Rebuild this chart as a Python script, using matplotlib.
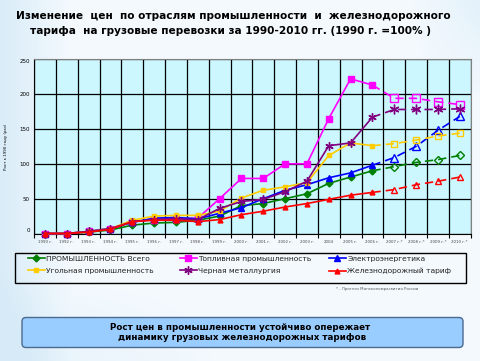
import numpy as np
import matplotlib
matplotlib.use("Agg")
import matplotlib.pyplot as plt
from matplotlib.lines import Line2D
from matplotlib.patches import FancyBboxPatch, Rectangle

# --- data (1990 = base) ---
years = ['1990 г.', '1992 г.', '1993 г.', '1994 г.', '1995 г.', '1996 г.', '1997 г.',
         '1998 г.', '1999 г.', '2000 г.', '2001 г.', '2002 г.', '2003 г.', '2004',
         '2005 г.', '2006 г.', '2007 г.*', '2008 г.*', '2009 г.*', '2010 г.*']

industry = [0, 0, 2, 5, 12, 15, 16, 19, 25, 40, 43, 50, 57, 72, 81, 90, 96, 102, 106, 112]
fuel     = [0, 0, 3, 7, 17, 20, 21, 22, 50, 79, 79, 100, 100, 165, 222, 213, 194, 194, 189, 185]
power    = [0, 0, 3, 7, 16, 22, 23, 21, 29, 37, 50, 62, 70, 80, 87, 98, 109, 125, 148, 168]
coal     = [0, 0, 3, 7, 19, 25, 26, 26, 32, 51, 62, 67, 73, 112, 130, 126, 129, 134, 140, 144]
metal    = [0, 0, 3, 7, 17, 20, 21, 20, 36, 46, 49, 60, 75, 126, 130, 167, 178, 178, 178, 179]
rail     = [0, 0, 2, 6, 17, 19, 19, 17, 20, 27, 32, 38, 43, 49, 55, 59, 63, 70, 75, 81]

labels = ['ПРОМЫШЛЕННОСТЬ Всего', 'Топливная промышленность', 'Электроэнергетика',
          'Угольная промышленность', 'Черная металлургия', 'Железнодорожный тариф']
series = [industry, fuel, power, coal, metal, rail]
colors = ['#008000', '#ff00ff', '#0000ff', '#ffcc00', '#800080', '#ff0000']
markers = ['D', 's', '^', 's', (6, 2, 0), '^']
msizes = [3.5, 4.5, 5, 3.5, 6, 3.5]

last_fact = 15  # 2006 - after that forecast

W, H = 480, 361
fig = plt.figure(figsize=(W / 100, H / 100), dpi=100)

# background in pixel coords
bg = fig.add_axes([0, 0, 1, 1], zorder=-10)
xx, yy = np.meshgrid(np.linspace(0, 1, 240), np.linspace(0, 1, 180))
t = np.clip(1 - xx / 0.15, 0, 1) * 0.9 + np.clip((yy - 0.75) / 0.25, 0, 1) * np.clip(1 - xx / 0.5, 0, 1) * 0.5
t += np.clip((xx - 0.85) / 0.15, 0, 1) * np.clip(1 - yy / 0.3, 0, 1) * 0.6
t = np.clip(t, 0, 1)
light = np.array([0.96, 0.98, 0.995])
dark = np.array([0.84, 0.92, 0.97])
img = light + (dark - light) * t[..., None]
bg.imshow(img, extent=[0, W, H, 0], aspect='auto', interpolation='bilinear')
bg.set_xlim(0, W)
bg.set_ylim(H, 0)
bg.axis('off')

# title
bg.text(233, 16, 'Изменение  цен  по отраслям промышленности  и  железнодорожного',
        ha='center', va='center', fontsize=7.6, fontweight='bold')
bg.text(230, 31, 'тарифа  на грузовые перевозки за 1990-2010 гг. (1990 г. =100% )',
        ha='center', va='center', fontsize=7.6, fontweight='bold')

# main chart
ax = fig.add_axes([34 / W, 1 - 233.5 / H, (470.7 - 34) / W, 174.2 / H])
ax.set_facecolor('#ccf7ff')
x = np.arange(len(years))
for vals, c, m, ms in zip(series, colors, markers, msizes):
    v = np.array(vals)
    ax.plot(x[:last_fact + 1], v[:last_fact + 1], color=c, lw=1.2, marker=m, ms=ms,
            mfc=c, mec=c, clip_on=False, zorder=3)
    ax.plot(x[last_fact:], v[last_fact:], color=c, lw=1.2, ls=(0, (5, 3)), zorder=3)
    ax.plot(x[last_fact + 1:], v[last_fact + 1:], ls='none', marker=m, ms=ms + 1,
            mfc='none', mec=c, mew=1, zorder=3)

ax.set_xlim(-0.5, len(years) - 0.5)
ax.set_ylim(0, 250)
ax.set_xticks(np.arange(-0.5, len(years), 1))
ax.set_xticklabels([])
ax.set_xticks(x, minor=True)
ax.set_xticklabels(years, minor=True, fontsize=2.8, color='#444444')
ax.tick_params(axis='x', which='major', length=3, width=0.8, direction='out')
ax.tick_params(axis='x', which='minor', length=0, pad=5)
ax.set_yticks(np.arange(0, 251, 50))
ax.tick_params(axis='y', length=0, labelsize=4, pad=3)
ylabs = ax.get_yticklabels()
ylabs[0].set_va('bottom')
ylabs[-1].set_va('top')
ax.grid(True, which='major', color='black', lw=0.9)
ax.set_axisbelow(True)
for s in ['top', 'right']:
    ax.spines[s].set_color('#808080')
    ax.spines[s].set_linewidth(0.8)
for s in ['left', 'bottom']:
    ax.spines[s].set_color('black')
ax.set_ylabel('Рост к 1990 году (раз)', fontsize=2.8, labelpad=8)

# legend: own frame, one legend per column
bg.add_patch(Rectangle((15, 253), 451, 30, fill=False, ec='black', lw=1))
handles = [Line2D([0], [0], color=c, marker=m, ms=ms, lw=1.2)
           for c, m, ms in zip(colors, markers, msizes)]
col_x = [27, 179, 328]
columns = [[0, 3], [1, 4], [2, 5]]
for cx, idx in zip(col_x, columns):
    leg = fig.legend([handles[i] for i in idx], [labels[i] for i in idx],
                     loc='upper left', bbox_to_anchor=(cx / W, 1 - 255 / H), frameon=False,
                     fontsize=5.4, handlelength=2.3, handletextpad=0.15,
                     labelspacing=0.75, borderaxespad=0, borderpad=0.1)
    for txt in leg.get_texts():
        txt.set_color('#222222')

bg.text(336, 289, '* - Прогноз Минэкономразвития России', fontsize=2.8, color='#555555',
        va='center')

# conclusion box
bg.add_patch(FancyBboxPatch((22, 317.5), 441, 30, boxstyle='round,pad=0,rounding_size=4',
                            fc='#99ccff', ec='#4a6a90', lw=1))
bg.text(240, 327, 'Рост цен в промышленности устойчиво опережает',
        ha='center', va='center', fontsize=6.3, fontweight='bold')
bg.text(242, 338, 'динамику грузовых железнодорожных тарифов',
        ha='center', va='center', fontsize=6.3, fontweight='bold')

fig.savefig('out.png', dpi=100)
